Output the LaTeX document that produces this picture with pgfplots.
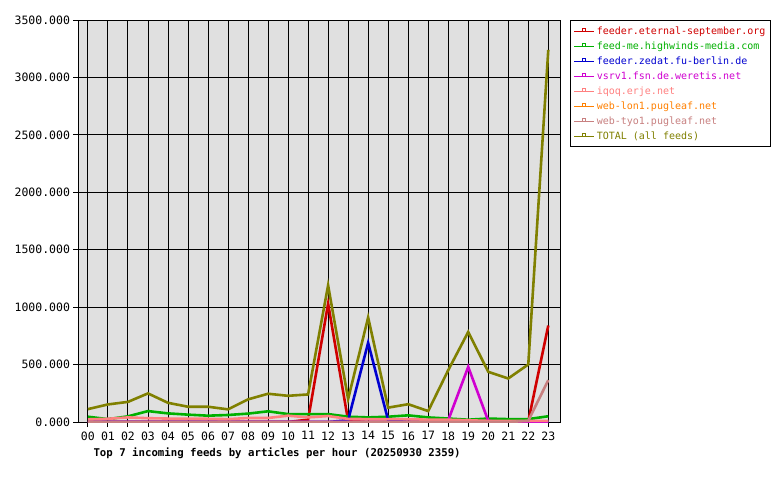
\documentclass[border=0pt]{standalone}
\usepackage{fontspec}
\setmainfont{DejaVu Sans Mono}
\usepackage{pgfplots}
\pgfplotsset{compat=1.18}
\definecolor{cRed}{RGB}{208,0,0}
\definecolor{cGreen}{RGB}{0,176,0}
\definecolor{cBlue}{RGB}{0,0,208}
\definecolor{cMag}{RGB}{208,0,208}
\definecolor{cSalmon}{RGB}{255,128,128}
\definecolor{cOrange}{RGB}{255,128,0}
\definecolor{cRosy}{RGB}{200,128,128}
\definecolor{cOlive}{RGB}{128,128,0}
\definecolor{bgGray}{RGB}{224,224,224}
\begin{document}
\begin{tikzpicture}
\useasboundingbox[fill=white] (0,0) rectangle (780pt,480pt);
\begin{axis}[
  at={(78.5pt,58pt)}, anchor=south west,
  scale only axis, width=481.8pt, height=402pt,
  xmin=-0.47, xmax=23.6, ymin=0, ymax=3500,
  axis background/.style={fill=bgGray},
  axis line style={black, line width=0.9pt},
  grid=major, major grid style={black, line width=0.9pt},
  xtick={0,...,23},
  xticklabels={00,01,02,03,04,05,06,07,08,09,10,11,12,13,14,15,16,17,18,19,20,21,22,23},
  ytick={0,500,...,3500},
  xtick pos=bottom, ytick pos=left,
  tick align=outside, major tick length=5pt,
  tick style={black, line width=0.9pt},
  tick label style={font=\fontsize{11.5}{12}\selectfont},
  /pgf/number format/assume math mode=true,
  yticklabel style={/pgf/number format/fixed, /pgf/number format/fixed zerofill, /pgf/number format/precision=3, /pgf/number format/1000 sep={}, xshift=0pt},
  xticklabel style={yshift=-1pt},
  legend cell align=left,
  legend style={at={(1,1)}, anchor=north west, xshift=10pt, draw=black, line width=1pt, fill=white,
    font=\fontsize{10}{12}\selectfont, row sep=1.9pt, inner xsep=3pt, inner ysep=4pt},
  legend image code/.code={
    \draw[#1, line width=1pt] (0pt,0pt) -- (20pt,0pt);
    \draw[#1, line width=1pt] (8.5pt,0pt) rectangle (11.5pt,2.5pt);
  },
  every axis plot/.append style={line width=2.6pt, mark=none},
]
\addplot[color=cOrange, forget plot] coordinates {(0,0)(1,0)(2,0)(3,0)(4,0)(5,0)(6,0)(7,0)(8,0)(9,0)(10,0)(11,0)(12,0)(13,0)(14,0)(15,0)(16,0)(17,0)(18,0)(19,0)(20,0)(21,0)(22,0)(23,0)};
\addplot[color=cRed] coordinates {(0,0)(1,0)(2,0)(3,0)(4,0)(5,0)(6,0)(7,0)(8,0)(9,0)(10,0)(11,20)(12,1030)(13,10)(14,0)(15,0)(16,0)(17,0)(18,0)(19,0)(20,0)(21,0)(22,5)(23,840)};
\addlegendentry{\textcolor{cRed}{feeder.eternal-september.org}}
\addplot[color=cGreen] coordinates {(0,46)(1,25)(2,49)(3,95)(4,75)(5,64)(6,55)(7,61)(8,73)(9,93)(10,69)(11,69)(12,69)(13,46)(14,40)(15,46)(16,58)(17,40)(18,30)(19,20)(20,30)(21,25)(22,25)(23,50)};
\addlegendentry{\textcolor{cGreen}{feed-me.highwinds-media.com}}
\addplot[color=cBlue] coordinates {(0,0)(1,0)(2,0)(3,0)(4,0)(5,0)(6,0)(7,0)(8,0)(9,0)(10,0)(11,0)(12,0)(13,15)(14,690)(15,15)(16,0)(17,0)(18,0)(19,0)(20,0)(21,0)(22,0)(23,0)};
\addlegendentry{\textcolor{cBlue}{feeder.zedat.fu-berlin.de}}
\addplot[color=cMag] coordinates {(0,0)(1,0)(2,0)(3,0)(4,0)(5,0)(6,0)(7,0)(8,0)(9,0)(10,0)(11,0)(12,0)(13,0)(14,0)(15,0)(16,0)(17,0)(18,15)(19,480)(20,10)(21,0)(22,0)(23,0)};
\addlegendentry{\textcolor{cMag}{vsrv1.fsn.de.weretis.net}}
\addplot[color=cSalmon] coordinates {(0,23)(1,28)(2,40)(3,33)(4,30)(5,30)(6,28)(7,25)(8,35)(9,35)(10,55)(11,40)(12,52)(13,27)(14,25)(15,25)(16,25)(17,20)(18,20)(19,15)(20,10)(21,10)(22,10)(23,10)};
\addlegendentry{\textcolor{cSalmon}{iqoq.erje.net}}
\addlegendimage{color=cOrange, line width=2.6pt}
\addlegendentry{\textcolor{cOrange}{web-lon1.pugleaf.net}}
\addplot[color=cRosy] coordinates {(0,0)(1,0)(2,0)(3,0)(4,0)(5,0)(6,0)(7,0)(8,0)(9,0)(10,0)(11,0)(12,0)(13,0)(14,0)(15,0)(16,0)(17,0)(18,0)(19,0)(20,0)(21,0)(22,10)(23,365)};
\addlegendentry{\textcolor{cRosy}{web-tyo1.pugleaf.net}}
\addplot[color=cOlive] coordinates {(0,112)(1,153)(2,175)(3,249)(4,167)(5,133)(6,133)(7,110)(8,197)(9,246)(10,228)(11,240)(12,1190)(13,200)(14,910)(15,125)(16,155)(17,95)(18,451)(19,784)(20,437)(21,379)(22,501)(23,3240)};
\addlegendentry{\textcolor{cOlive}{TOTAL (all feeds)}}
\end{axis}
\node[anchor=base west, font=\bfseries\fontsize{10.7}{12}\selectfont] at (90pt,24pt) {Top 7 incoming feeds by articles per hour (20250930 2359)};
\end{tikzpicture}
\end{document}
